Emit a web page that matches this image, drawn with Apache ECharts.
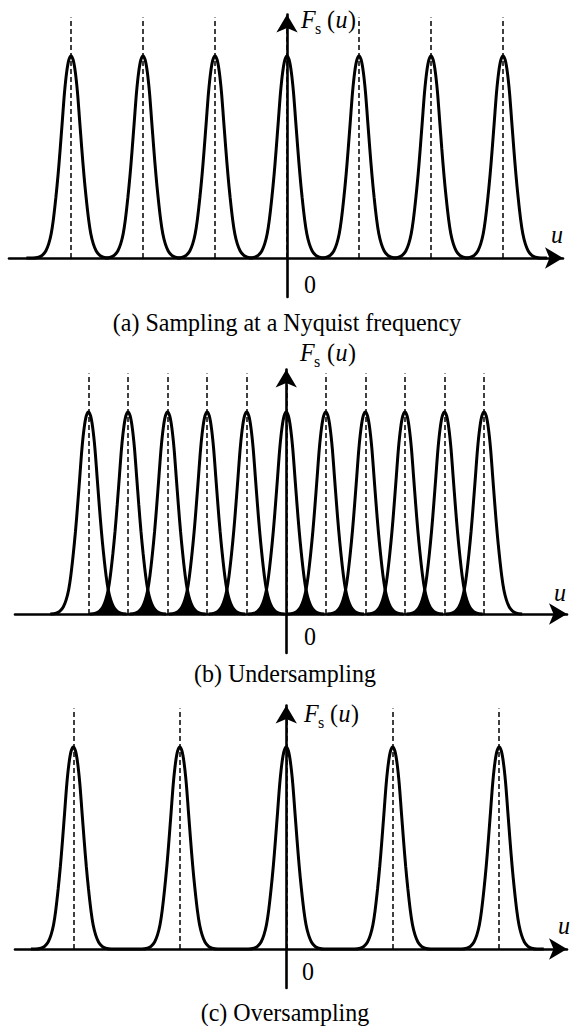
<!DOCTYPE html>
<html><head><meta charset="utf-8">
<script src="https://cdn.jsdelivr.net/npm/echarts@6/dist/echarts.min.js"></script>
<style>html,body{margin:0;padding:0;background:#fff}#c{width:576px;height:1026px}</style>
</head><body><div id="c"></div>
<script>
// Peak shape: offset from the peak centre (u units, 1 = Nyquist spacing) and relative height
const PROFILE_DX = [0, 0.03, 0.06, 0.09, 0.12, 0.15, 0.18, 0.21, 0.245, 0.275, 0.31, 0.35, 0.40, 0.45, 0.53];
const PROFILE_H  = [1.00, 0.98, 0.92, 0.82, 0.68, 0.54, 0.41, 0.30, 0.19, 0.12, 0.07, 0.035, 0.013, 0.004, 0];
// Peak centres of each panel
const CENTERS_A = [-3, -2, -1, 0, 1, 2, 3];
const CENTERS_B = [-2.75, -2.2, -1.65, -1.1, -0.55, 0, 0.55, 1.1, 1.65, 2.2, 2.75];
const CENTERS_C = [-2.96, -1.48, 0, 1.48, 2.96];
// Where the flat part of the spectrum curve starts/ends
const BASE_A = [-3.62, 3.61];
const BASE_C = [-3.55, 3.58];
const DASH_TOP = 1.19;
const CAPTIONS = ['(a) Sampling at a Nyquist frequency', '(b) Undersampling', '(c) Oversampling'];
const AXIS_NAME_Y = ['F', 's', 'u'];
const AXIS_NAME_X = 'u';
const ORIGIN_LABEL = '0';

function peakPoints(c) {
  const pts = [];
  for (let k = PROFILE_DX.length - 1; k > 0; k--) pts.push([c - PROFILE_DX[k], PROFILE_H[k]]);
  for (let k = 0; k < PROFILE_DX.length; k++) pts.push([c + PROFILE_DX[k], PROFILE_H[k]]);
  return pts;
}
function combPoints(centers, base) {
  let pts = [[base[0], 0]];
  centers.forEach(c => { pts = pts.concat(peakPoints(c)); });
  pts.push([base[1], 0]);
  return pts;
}
// region lying under both of two neighbouring peaks (min of the two profiles)
function overlapPoints(c0, c1) {
  const half = (c1 - c0) / 2, pts = [];
  for (let k = PROFILE_DX.length - 1; k >= 0; k--) if (PROFILE_DX[k] >= half - 1e-6) pts.push([c1 - PROFILE_DX[k], PROFILE_H[k]]);
  for (let k = 0; k < PROFILE_DX.length; k++) if (PROFILE_DX[k] > half + 1e-6) pts.push([c0 + PROFILE_DX[k], PROFILE_H[k]]);
  return pts;
}

const FONT_FAMILY = 'Liberation Serif';
const BLACK = '#000';
const dashLine = centers => ({
  symbol: ['none', 'none'], silent: true, animation: false,
  label: { show: false },
  lineStyle: { type: [5, 3], width: 1.5, color: BLACK },
  data: centers.map(c => [{ coord: [c, 0] }, { coord: [c, DASH_TOP] }])
});
const curveStyle = { color: BLACK, width: 3 };

const panels = [
  { grid: { left: 9, top: 14.5, width: 554, height: 282.5 }, xmin: -3.861, xmax: 3.833 },
  { grid: { left: 15, top: 369.5, width: 552, height: 283.5 }, xmin: -3.771, xmax: 3.903 },
  { grid: { left: 15, top: 705.5, width: 552, height: 282.5 }, xmin: -3.771, xmax: 3.903 }
];
const axisLineBase = { onZero: true, symbol: ['none', 'arrow'], symbolSize: [16, 18], lineStyle: { color: BLACK, width: 2.6 } };

const series = [];
series.push({ type: 'line', xAxisIndex: 0, yAxisIndex: 0, data: combPoints(CENTERS_A, BASE_A), symbol: 'none',
  smooth: 0.3, lineStyle: curveStyle, z: 3, markLine: dashLine(CENTERS_A) });
for (let i = 0; i + 1 < CENTERS_B.length; i++) {
  series.push({ type: 'line', xAxisIndex: 1, yAxisIndex: 1, data: overlapPoints(CENTERS_B[i], CENTERS_B[i + 1]), symbol: 'none',
    lineStyle: { width: 0 }, areaStyle: { color: BLACK, opacity: 1 }, z: 2 });
}
CENTERS_B.forEach((c, i) => {
  const s = { type: 'line', xAxisIndex: 1, yAxisIndex: 1, data: peakPoints(c), symbol: 'none', smooth: 0.3, lineStyle: curveStyle, z: 3 };
  if (i === 0) s.markLine = dashLine(CENTERS_B);
  series.push(s);
});
series.push({ type: 'line', xAxisIndex: 2, yAxisIndex: 2, data: combPoints(CENTERS_C, BASE_C), symbol: 'none',
  smooth: 0.3, lineStyle: curveStyle, z: 3, markLine: dashLine(CENTERS_C) });

// text positions (px)
const labelPos = [
  { F: [301, 19], s: [315, 28], u: [327, 19], ax: [557, 234], zero: [310, 284], cap: [287, 322] },
  { F: [300, 352], s: [314, 361], u: [327, 352], ax: [560, 592], zero: [310, 636], cap: [285, 673] },
  { F: [304, 713], s: [318, 722], u: [330, 713], ax: [564, 925], zero: [308, 971], cap: [285, 1012] }
];
const graphic = [];
function txt(text, x, y, size, italic, align) {
  return { type: 'text', silent: true, x: x, y: y, scaleY: 1.07,
    style: { text: text, fill: BLACK, fontFamily: FONT_FAMILY, fontSize: size, fontStyle: italic ? 'italic' : 'normal',
      align: align, textAlign: align, verticalAlign: 'middle', textVerticalAlign: 'middle' } };
}
labelPos.forEach((p, i) => {
  graphic.push(txt(AXIS_NAME_Y[0], p.F[0], p.F[1], 24, true, 'left'));
  graphic.push(txt(AXIS_NAME_Y[1], p.s[0], p.s[1], 16, false, 'left'));
  graphic.push(txt('(', p.u[0], p.u[1], 24, false, 'left'));
  graphic.push(txt(AXIS_NAME_Y[2], p.u[0] + 8.5, p.u[1], 24, true, 'left'));
  graphic.push(txt(')', p.u[0] + 21, p.u[1], 24, false, 'left'));
  graphic.push(txt(AXIS_NAME_X, p.ax[0], p.ax[1], 24, true, 'center'));
  graphic.push(txt(ORIGIN_LABEL, p.zero[0], p.zero[1], 24, false, 'center'));
  graphic.push(txt(CAPTIONS[i], p.cap[0], p.cap[1], 24, false, 'center'));
});

const chart = echarts.init(document.getElementById('c'), null, { renderer: 'svg' });
chart.setOption({
  animation: false,
  backgroundColor: '#fff',
  grid: panels.map(p => p.grid),
  xAxis: panels.map((p, i) => ({ type: 'value', gridIndex: i, min: p.xmin, max: p.xmax,
    axisLine: axisLineBase, axisTick: { show: false }, axisLabel: { show: false }, splitLine: { show: false } })),
  yAxis: panels.map((p, i) => ({ type: 'value', gridIndex: i, min: -0.193, max: i === 1 ? 1.210 : 1.205,
    axisLine: axisLineBase, axisTick: { show: false }, axisLabel: { show: false }, splitLine: { show: false } })),
  series: series,
  graphic: graphic
});
</script></body></html>
